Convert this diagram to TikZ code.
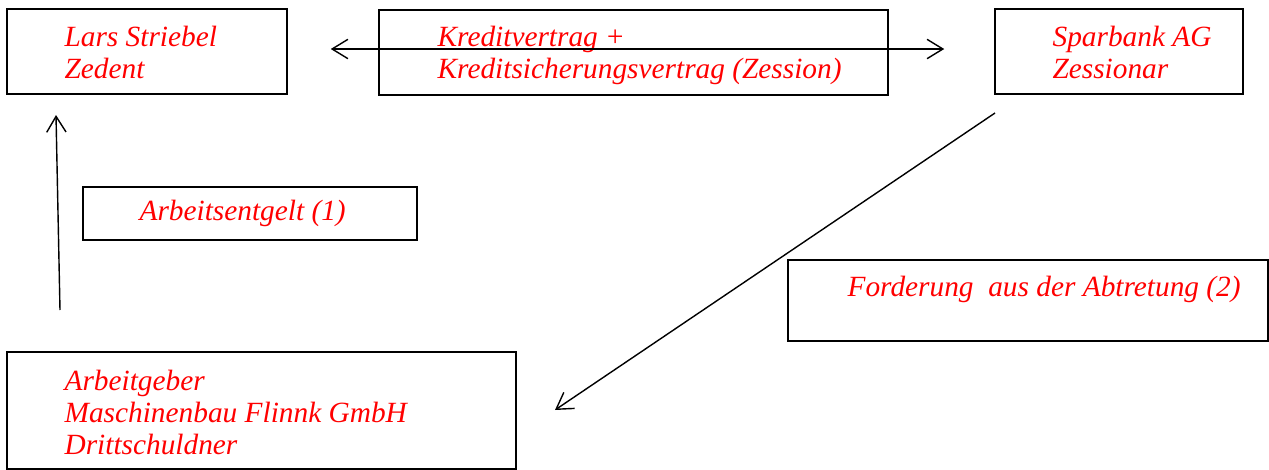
\documentclass[tikz,border=0pt]{standalone}
\usepackage{fontspec}
\setmainfont{Liberation Serif}
\usetikzlibrary{arrows.meta}

\begin{document}
\begin{tikzpicture}[x=0.02cm, y=-0.02cm,
    box/.style={draw, line width=0.9pt, inner sep=0pt},
    txt/.style={text=red, inner sep=0pt, align=left,
        font=\fontsize{16.7}{18.1}\selectfont\itshape},
    pfeil/.style={line width=0.8pt, -{Straight Barb[length=9pt, width=11pt]}}]
    \useasboundingbox (0, 0) rectangle (1269, 470);
    % Kaesten
    \node[box, minimum width=5.6cm, minimum height=1.7cm] (lars) at (147, 51.5) {};
    \node[box, minimum width=10.18cm, minimum height=1.7cm] (vertrag) at (633.5, 52.5) {};
    \node[box, minimum width=4.96cm, minimum height=1.7cm] (bank) at (1119, 51.5) {};
    \node[box, minimum width=6.68cm, minimum height=1.06cm] (entgelt) at (250, 213.5) {};
    \node[box, minimum width=9.6cm, minimum height=1.62cm] (forderung) at (1028, 300.5) {};
    \node[box, minimum width=10.18cm, minimum height=2.34cm] (arbeitgeber) at (261.5, 410.5) {};
    % Texte
    \node[txt, anchor=west] (lars-txt) at ([xshift=1.16cm, yshift=-0.02cm]lars.west) {Lars Striebel\\Zedent};
    \node[txt, anchor=west] (vertrag-txt) at ([xshift=1.18cm, yshift=-0.06cm]vertrag.west) {Kreditvertrag +\\Kreditsicherungsvertrag (Zession)};
    \node[txt, anchor=west] (bank-txt) at ([xshift=1.16cm, yshift=-0.02cm]bank.west) {Sparbank AG\\Zessionar};
    \node[txt, anchor=west] (entgelt-txt) at ([xshift=1.14cm]entgelt.west) {Arbeitsentgelt (1)};
    \node[txt, anchor=base west] (forderung-txt) at ([xshift=1.2cm, yshift=-0.74cm]forderung.north west) {Forderung\ \ aus der Abtretung (2)};
    \node[txt, anchor=west] (arbeitgeber-txt) at ([xshift=1.16cm, yshift=-0.04cm]arbeitgeber.west) {Arbeitgeber\\Maschinenbau Flinnk GmbH\\Drittschuldner};
    % Pfeile
    \coordinate (entgelt-von) at (60, 310);
    \coordinate (entgelt-nach) at (56, 115);
    \coordinate (abtretung-von) at (995, 113);
    \coordinate (abtretung-nach) at (555, 410);
    \draw[pfeil, {Straight Barb[length=9pt, width=11pt]}-{Straight Barb[length=9pt, width=11pt]},
        shorten <=0.86cm, shorten >=1cm] (lars.east |- 0, 49) -- (bank.west |- 0, 49);
    \draw[pfeil] (entgelt-von) -- (entgelt-nach);
    \draw[pfeil] (abtretung-von) -- (abtretung-nach);
\end{tikzpicture}
\end{document}
